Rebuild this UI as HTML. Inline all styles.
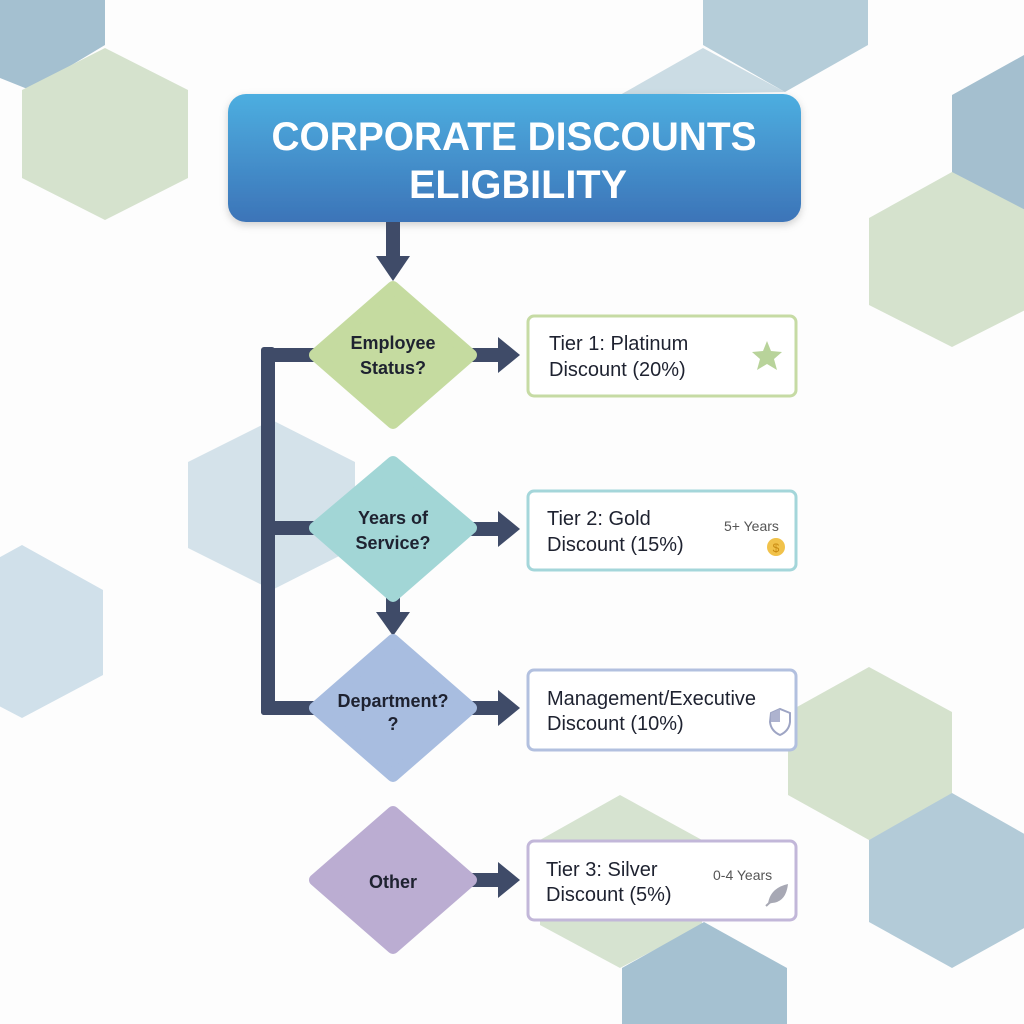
<!DOCTYPE html>
<html><head><meta charset="utf-8"><style>
html,body{margin:0;padding:0;background:#fff;}
svg{display:block;}
text{font-family:"Liberation Sans",sans-serif;}
</style></head><body>
<svg width="1024" height="1024" viewBox="0 0 1024 1024" xmlns="http://www.w3.org/2000/svg">
<defs>
<linearGradient id="tg" x1="0" y1="0" x2="0" y2="1">
<stop offset="0" stop-color="#4daee0"/><stop offset="1" stop-color="#3c74b8"/>
</linearGradient>
<filter id="sh" x="-10%" y="-10%" width="120%" height="130%"><feDropShadow dx="0" dy="3" stdDeviation="4" flood-color="#000" flood-opacity="0.18"/></filter>
</defs>
<rect width="1024" height="1024" fill="#fdfdfd"/>
<polygon points="0,0 105,0 105,45 30,90 0,78" fill="#a4c0d0"/>
<polygon points="105,48 188,90 188,178 105,220 22,178 22,90" fill="#d5e2cd"/>
<polygon points="620,95 703,48 785,92" fill="#cbdce4"/>
<polygon points="703,0 868,0 868,45 785,92 703,45" fill="#b5cdd9"/>
<polygon points="1024,55 1024,215 952,175 952,95" fill="#a4bfcf"/>
<polygon points="952,172 1035,215 1035,305 952,347 869,305 869,218" fill="#d5e2cd"/>
<polygon points="272,420 355,462 355,548 272,590 188,548 188,462" fill="#d4e2ea"/>
<polygon points="22,545 103,590 103,675 22,718 -60,675 -60,590" fill="#d0e0ea"/>
<polygon points="869,667 952,712 952,795 869,840 788,795 788,712" fill="#d5e2cd"/>
<polygon points="952,793 1035,840 1035,922 952,968 869,922 869,840" fill="#b3cbd8"/>
<polygon points="620,795 702,840 702,925 620,968 540,925 540,840" fill="#d6e3d0"/>
<polygon points="704,922 787,968 787,1024 622,1024 622,968" fill="#a5c1d1"/>
<rect x="228" y="94" width="573" height="128" rx="18" fill="url(#tg)" filter="url(#sh)"/>
<text x="514" y="150" text-anchor="middle" font-size="40" font-weight="bold" fill="#fff" textLength="485" lengthAdjust="spacingAndGlyphs">CORPORATE DISCOUNTS</text>
<text x="518" y="198" text-anchor="middle" font-size="40" font-weight="bold" fill="#fff" textLength="218" lengthAdjust="spacingAndGlyphs">ELIGBILITY</text>
<g fill="#3f4b68">
<rect x="386" y="222" width="14" height="36"/>
<polygon points="376,256 410,256 393,281"/>
<rect x="261" y="347" width="14" height="368" rx="3"/>
<rect x="261" y="348" width="70" height="14" rx="3"/>
<rect x="261" y="521" width="70" height="14"/>
<rect x="261" y="701" width="70" height="14" rx="3"/>
<rect x="386" y="575" width="14" height="40"/>
<polygon points="376,612 410,612 393,636"/>
<rect x="460" y="348" width="42" height="14"/><polygon points="498,337 520,355 498,373"/>
<rect x="460" y="522" width="42" height="14"/><polygon points="498,511 520,529 498,547"/>
<rect x="460" y="701" width="42" height="14"/><polygon points="498,690 520,708 498,726"/>
<rect x="460" y="873" width="42" height="14"/><polygon points="498,862 520,880 498,898"/>
</g>
<g stroke-linejoin="round" stroke-width="12">
<polygon points="393,287 471,355 393,423 315,355" fill="#c5dba0" stroke="#c5dba0"/>
<polygon points="393,462 471,528 393,596 315,528" fill="#a2d6d6" stroke="#a2d6d6"/>
<polygon points="393,640 471,708 393,776 315,708" fill="#a8bde0" stroke="#a8bde0"/>
<polygon points="393,812 471,880 393,948 315,880" fill="#bbadd2" stroke="#bbadd2"/>
</g>
<g font-size="18" font-weight="bold" fill="#1e2230" text-anchor="middle">
<text x="393" y="349">Employee</text><text x="393" y="374">Status?</text>
<text x="393" y="524">Years of</text><text x="393" y="549">Service?</text>
<text x="393" y="707">Department?</text><text x="393" y="730">?</text>
<text x="393" y="888">Other</text>
</g>
<g fill="#fff" stroke-width="3">
<rect x="528" y="316" width="268" height="80" rx="6" stroke="#c6dba4"/>
<rect x="528" y="491" width="268" height="79" rx="6" stroke="#a4d6da"/>
<rect x="528" y="670" width="268" height="80" rx="6" stroke="#b2c0df"/>
<rect x="528" y="841" width="268" height="79" rx="6" stroke="#c2b7d9"/>
</g>
<g font-size="20" fill="#1e2230">
<text x="549" y="350">Tier 1: Platinum</text><text x="549" y="376">Discount (20%)</text>
<text x="547" y="525">Tier 2: Gold</text><text x="547" y="551">Discount (15%)</text>
<text x="547" y="705">Management/Executive</text><text x="547" y="730">Discount (10%)</text>
<text x="546" y="876">Tier 3: Silver</text><text x="546" y="901">Discount (5%)</text>
</g>
<g font-size="14" fill="#555">
<text x="724" y="531">5+ Years</text>
<text x="713" y="880">0-4 Years</text>
</g>
<polygon points="767,341 771,351 782,352 774,359 777,370 767,364 757,370 760,359 752,352 763,351" fill="#b8d39a"/>
<circle cx="776" cy="547" r="9" fill="#f1c24a"/><text x="776" y="552" font-size="12" text-anchor="middle" fill="#c98b12">$</text>
<path d="M771,713 L780,709 L790,713 L790,722 Q789,731 780,735 Q771,731 770,722 Z" fill="#fff" stroke="#9ea5c4" stroke-width="2"/>
<path d="M771,713 L780,709 L780,722 L771,722 Z" fill="#aeb3cf"/>
<path d="M768,904 Q770,888 788,884 Q786,902 772,903 Z" fill="#a7a8b4"/>
<line x1="766" y1="906" x2="780" y2="893" stroke="#a7a8b4" stroke-width="2"/>
</svg>
</body></html>
